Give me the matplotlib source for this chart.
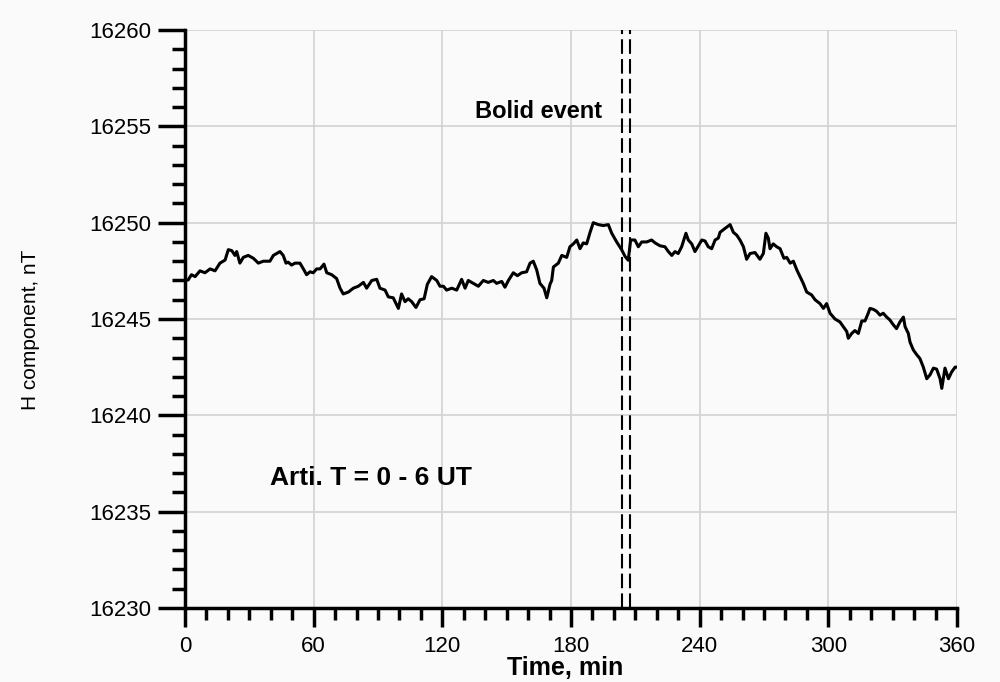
import matplotlib.pyplot as plt
from matplotlib.ticker import MultipleLocator

# H component record, Arti observatory, 0-6 UT
time_min = [0, 1.5, 3, 4.7, 7, 9.3, 11.7, 14, 16.3, 18.7, 20.2, 21.8, 23.3, 24.1, 25.6,
            27.2, 29.5, 31.9, 34.2, 36.5, 39.6, 41.2, 42.8, 44.3, 45.8, 47.1, 48.1, 49.7,
            51.3, 53.6, 55.2, 56.7, 58.3, 59.8, 61.4, 63, 64.8, 66.1, 68.4, 70.7, 72.3,
            73.8, 76.2, 78.5, 80.8, 83.2, 84.7, 87.1, 89.4, 90.9, 93.3, 94.8, 97.1, 99.5,
            101, 102.6, 104.1, 105.7, 107.7, 109.6, 111.5, 113, 115, 117.4, 118.9, 120.5,
            122, 124.4, 126.7, 129, 130.6, 132.1, 134.5, 136.8, 139.1, 141.4, 143.8, 145.3,
            147.7, 149.2, 150.8, 153.1, 155, 157, 159.3, 160.9, 162.4, 164, 165.5, 167.4,
            168.7, 170.2, 171, 171.8, 174.1, 175.7, 178, 179.5, 181.1, 182.7, 184.2, 185.7,
            187.3, 188.9, 190.4, 192.7, 195.1, 197.4, 199, 201.3, 203.6, 205.2, 206.7, 207.8,
            209.8, 211.4, 213, 215.3, 217.6, 219.2, 221.5, 223.8, 225.4, 227, 228.5, 230,
            231.6, 233.6, 234.7, 236.3, 237.8, 239.4, 241, 242.5, 244, 245.6, 247.2, 248.7,
            249.5, 251.8, 254.2, 255.7, 257.3, 258.8, 260.4, 261.9, 263.5, 265.8, 268.1,
            269.7, 270.9, 272, 272.8, 274.3, 275.9, 277.5, 279.3, 280.6, 282.2, 283.7, 285.3,
            286.8, 288.3, 289.9, 292.2, 293.8, 296.1, 297.7, 299.2, 300.8, 303.1, 305.4, 307,
            308.6, 309.3, 310.9, 312.4, 314, 315.6, 317.1, 318.6, 319.4, 321, 322.5, 324.1,
            325.6, 327.2, 328.7, 330.3, 331.8, 333.4, 335, 335.8, 337.3, 338.1, 339.6, 341.2,
            342.7, 344.3, 345.9, 347.4, 349, 350.5, 352.1, 352.9, 354.4, 356, 357.5, 359.1, 360]

h_nT = [16247.0, 16247.03, 16247.3, 16247.2, 16247.5, 16247.4, 16247.6, 16247.5, 16247.9,
        16248.06, 16248.6, 16248.55, 16248.3, 16248.5, 16247.9, 16248.2, 16248.3, 16248.15,
        16247.9, 16248.0, 16248.0, 16248.3, 16248.4, 16248.5, 16248.3, 16247.9, 16247.95,
        16247.8, 16247.9, 16247.9, 16247.6, 16247.3, 16247.45, 16247.4, 16247.6, 16247.6,
        16247.85, 16247.4, 16247.3, 16247.1, 16246.6, 16246.3, 16246.4, 16246.6, 16246.7,
        16246.9, 16246.6, 16247.0, 16247.06, 16246.6, 16246.5, 16246.15, 16246.1, 16245.55,
        16246.3, 16245.9, 16246.05, 16245.9, 16245.6, 16246.0, 16246.05, 16246.8, 16247.2,
        16247.0, 16246.7, 16246.7, 16246.5, 16246.6, 16246.5, 16247.06, 16246.6, 16247.0,
        16246.85, 16246.7, 16247.0, 16246.9, 16247.0, 16246.85, 16246.95, 16246.65, 16247.0,
        16247.4, 16247.25, 16247.4, 16247.45, 16247.9, 16248.0, 16247.55, 16246.85, 16246.6,
        16246.1, 16246.8, 16247.0, 16247.7, 16247.9, 16248.3, 16248.2, 16248.75, 16248.9,
        16249.1, 16248.65, 16248.95, 16248.9, 16249.5, 16250.0, 16249.9, 16249.85, 16249.9,
        16249.45, 16249.0, 16248.6, 16248.25, 16248.05, 16249.1, 16249.1, 16248.75, 16249.0,
        16249.0, 16249.1, 16248.95, 16248.8, 16248.75, 16248.5, 16248.3, 16248.5, 16248.4,
        16248.75, 16249.45, 16249.1, 16248.9, 16248.5, 16248.8, 16249.1, 16249.05, 16248.75,
        16248.65, 16249.1, 16249.2, 16249.5, 16249.7, 16249.9, 16249.5, 16249.35, 16249.1,
        16248.75, 16248.1, 16248.4, 16248.45, 16248.1, 16248.4, 16249.45, 16249.2, 16248.65,
        16248.9, 16248.75, 16248.65, 16248.15, 16248.2, 16247.9, 16248.0, 16247.55, 16247.2,
        16246.85, 16246.4, 16246.25, 16246.0, 16245.8, 16245.55, 16245.8, 16245.3, 16245.0,
        16244.85, 16244.6, 16244.35, 16244.0, 16244.25, 16244.4, 16244.25, 16244.9, 16244.9,
        16245.3, 16245.55, 16245.5, 16245.4, 16245.2, 16245.3, 16245.1, 16244.95, 16244.7,
        16244.5, 16244.85, 16245.1, 16244.6, 16244.25, 16243.8, 16243.4, 16243.15, 16242.95,
        16242.5, 16241.9, 16242.1, 16242.45, 16242.4, 16241.9, 16241.4, 16242.45, 16241.9,
        16242.25, 16242.5, 16242.5]

# bolide passage bracketed by two dashed markers
event_bounds = [204, 207.5]

plt.rcParams['font.family'] = ['Liberation Sans', 'DejaVu Sans']

fig = plt.figure(figsize=(10, 6.82), dpi=100, facecolor='#fafafa')
ax = fig.add_axes([0.185, 0.1085, 0.772, 0.8475])
ax.set_facecolor('#fafafa')

ax.plot(time_min, h_nT, color='black', lw=2.2, zorder=3)
for xb in event_bounds:
    ax.axvline(xb, color='black', lw=1.5, linestyle=(0, (7, 2.5)), zorder=3)

ax.set_xlim(0, 360)
ax.set_ylim(16230, 16260)
ax.xaxis.set_major_locator(MultipleLocator(60))
ax.xaxis.set_minor_locator(MultipleLocator(10))
ax.yaxis.set_major_locator(MultipleLocator(5))
ax.yaxis.set_minor_locator(MultipleLocator(1))
ax.grid(which='major', color='#d2d2d2', lw=1.2, zorder=0)

for side in ['top', 'right']:
    ax.spines[side].set_visible(False)
for side in ['left', 'bottom']:
    ax.spines[side].set_linewidth(2.5)

ax.tick_params(axis='x', which='major', length=14, width=2.5, direction='out', pad=6, labelsize=16)
ax.tick_params(axis='x', which='minor', length=8.5, width=2.5, direction='out')
ax.tick_params(axis='y', which='major', length=19.5, width=2.5, direction='out', pad=5, labelsize=16)
ax.tick_params(axis='y', which='minor', length=9.5, width=2.5, direction='out')

ax.set_xlabel('Time, min', fontsize=18, fontweight='bold', va='center')
ax.xaxis.set_label_coords(0.492, -0.104)
ax.set_ylabel('H component, nT', fontsize=15, va='center')
ax.yaxis.set_label_coords(-0.2, 0.481)

ax.text(165, 16255.75, 'Bolid event', fontsize=17, fontweight='bold', ha='center', va='center')
ax.text(39.5, 16236.75, 'Arti. T = 0 - 6 UT', fontsize=19, fontweight='bold', ha='left', va='center')

fig.savefig('out.png', dpi=100, facecolor=fig.get_facecolor())
plt.close(fig)
